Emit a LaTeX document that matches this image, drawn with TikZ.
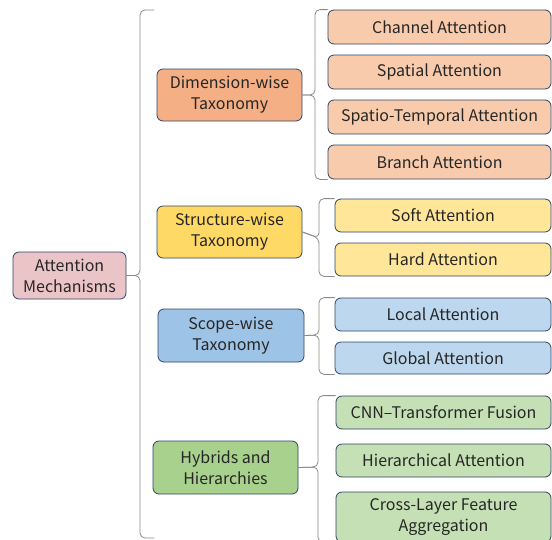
\documentclass[tikz,border=0pt]{standalone}
\usepackage{fontspec}
\setmainfont{Noto Sans CJK SC}
\definecolor{bordc}{HTML}{2F4466}
\definecolor{txtc}{HTML}{262626}
\definecolor{rootc}{HTML}{EBC4C7}
\definecolor{dimc}{HTML}{F4AF84}
\definecolor{strc}{HTML}{FFD966}
\definecolor{scpc}{HTML}{9DC3E6}
\definecolor{hybc}{HTML}{A9D18E}
\definecolor{dimlc}{HTML}{F8CBAD}
\definecolor{strlc}{HTML}{FFE699}
\definecolor{scplc}{HTML}{BDD7EE}
\definecolor{hyblc}{HTML}{C5E0B4}
\definecolor{bracec}{HTML}{8A8A8A}
\tikzset{
  box/.style={draw=bordc, line width=0.8pt, rounded corners=6pt, align=center,
    inner sep=0pt, text=txtc, font=\fontsize{16}{21}\selectfont},
  brace/.style={draw=bracec, line width=0.8pt, rounded corners=5pt},
}
\begin{document}
\begin{tikzpicture}[x=1pt,y=-1pt]
\useasboundingbox (0,0) rectangle (552,539);
\fill[white] (0,0) rectangle (552,539);
% root and categories
\node[box, fill=rootc, minimum width=113, minimum height=47] (root) at (69.5,275.5) {Attention\\Mechanisms};
\node[box, fill=dimc, minimum width=145, minimum height=52] (dim) at (229.5,95) {Dimension-wise\\Taxonomy};
\node[box, fill=strc, minimum width=145, minimum height=52] (str) at (229.5,232) {Structure-wise\\Taxonomy};
\node[box, fill=scpc, minimum width=146, minimum height=53] (scp) at (231,335.5) {Scope-wise\\Taxonomy};
\node[box, fill=hybc, minimum width=145, minimum height=53] (hyb) at (225.5,467.5) {Hybrids and\\Hierarchies};
% leaves
\node[box, fill=dimlc, minimum width=223, minimum height=34] (ch) at (439.5,27) {Channel Attention};
\node[box, fill=dimlc, minimum width=223, minimum height=34] (sp) at (439.5,72) {Spatial Attention};
\node[box, fill=dimlc, minimum width=223, minimum height=34] (st) at (439.5,117) {Spatio-Temporal Attention};
\node[box, fill=dimlc, minimum width=223, minimum height=34] (br) at (439.5,162) {Branch Attention};
\node[box, fill=strlc, minimum width=216, minimum height=33] (so) at (443,215.5) {Soft Attention};
\node[box, fill=strlc, minimum width=216, minimum height=33] (ha) at (443,259.5) {Hard Attention};
\node[box, fill=scplc, minimum width=216, minimum height=33] (lo) at (443,314.5) {Local Attention};
\node[box, fill=scplc, minimum width=216, minimum height=32] (gl) at (443,358) {Global Attention};
\node[box, fill=hyblc, minimum width=215, minimum height=33] (cnn) at (443.5,412.5) {CNN–Transformer Fusion};
\node[box, fill=hyblc, minimum width=215, minimum height=33] (hi) at (443.5,460.5) {Hierarchical Attention};
\node[box, fill=hyblc, minimum width=215, minimum height=50] (cl) at (443.5,517) {Cross-Layer Feature\\Aggregation};
% brace coordinates
\coordinate (mtop) at (154,10);
\coordinate (mbot) at (154,538);
\coordinate (mc) at (140,275.5);
\coordinate (dc) at (315,95);
\coordinate (sc) at (319,238);
\coordinate (pc) at (319,335);
\coordinate (hc) at (318,467);
% main brace
\draw[brace] (mtop) -| (mc) -- (root.east);
\draw[brace] (mbot) -| (mc) -- (root.east);
% category braces
\draw[brace] (ch.north west) -| (dc) -- (dim.east);
\draw[brace] (br.south west) -| (dc) -- (dim.east);
\draw[brace] (so.north west) -| (sc) -- (str.east);
\draw[brace] (ha.south west) -| (sc) -- (str.east);
\draw[brace] (lo.north west) -| (pc) -- (scp.east);
\draw[brace] (gl.south west) -| (pc) -- (scp.east);
\draw[brace] (cnn.north west) -| (hc) -- (hyb.east);
\draw[brace] (cl.south west) -| (hc) -- (hyb.east);
\end{tikzpicture}
\end{document}
